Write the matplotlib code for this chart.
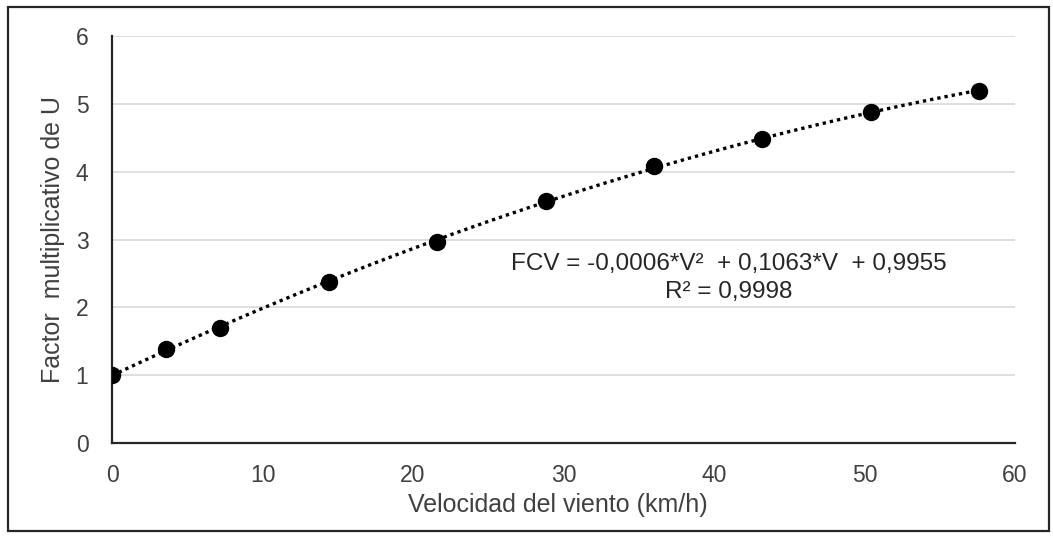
import matplotlib.pyplot as plt
import numpy as np
from matplotlib.patches import Rectangle

plt.rcParams['font.family'] = ['Liberation Sans', 'DejaVu Sans']

# datos
velocidad = [0, 3.6, 7.2, 14.4, 21.6, 28.8, 36.0, 43.2, 50.4, 57.6]
factor = [1.0, 1.39, 1.70, 2.37, 2.97, 3.57, 4.08, 4.48, 4.88, 5.19]
xticks = [0, 10, 20, 30, 40, 50, 60]
yticks = [0, 1, 2, 3, 4, 5, 6]
ecuacion = "FCV = -0,0006*V²  + 0,1063*V  + 0,9955"
r2 = "R² = 0,9998"

fig = plt.figure(figsize=(10.53, 5.36), dpi=100)
ax = fig.add_axes([0.1064, 0.1735, 0.8576, 0.7593])

# linea de tendencia polinomica (grado 2)
coef = np.polyfit(velocidad, factor, 2)
xs = np.linspace(min(velocidad), max(velocidad), 300)
ax.plot(xs, np.polyval(coef, xs), color='black', lw=2.4,
        linestyle=(0, (1, 1.2)), zorder=2)
ax.plot(velocidad, factor, 'o', color='black', ms=11.5, zorder=3)

ax.set_xlim(0, 60)
ax.set_ylim(0, 6)
ax.set_xticks(xticks)
ax.set_yticks(yticks)
ax.tick_params(length=0, labelsize=16.5, colors='#404040')
ax.tick_params(axis='x', pad=15)
ax.tick_params(axis='y', pad=17)
ax.grid(axis='y', color='#d9d9d9', lw=1.2)
ax.set_axisbelow(True)
for s in ['top', 'right']:
    ax.spines[s].set_visible(False)
for s in ['left', 'bottom']:
    ax.spines[s].set_color('#262626')
    ax.spines[s].set_linewidth(1.6)

ax.set_xlabel('Velocidad del viento (km/h)', fontsize=18, color='#404040', va='center')
ax.xaxis.set_label_coords(0.494, -0.152)
ax.set_ylabel('Factor  multiplicativo de U', fontsize=18, color='#404040', va='center')
ax.yaxis.set_label_coords(-0.0653, 0.5)

ax.text(41.0, 2.64, ecuacion, ha='center', va='center', fontsize=17.5, color='#262626')
ax.text(41.0, 2.23, r2, ha='center', va='center', fontsize=17.5, color='#262626')

# marco exterior
fig.patches.append(Rectangle((0.008, 0.01), 0.988, 0.977, transform=fig.transFigure,
                             fill=False, edgecolor='#262626', lw=1.6))

fig.savefig('out.png', dpi=100)
